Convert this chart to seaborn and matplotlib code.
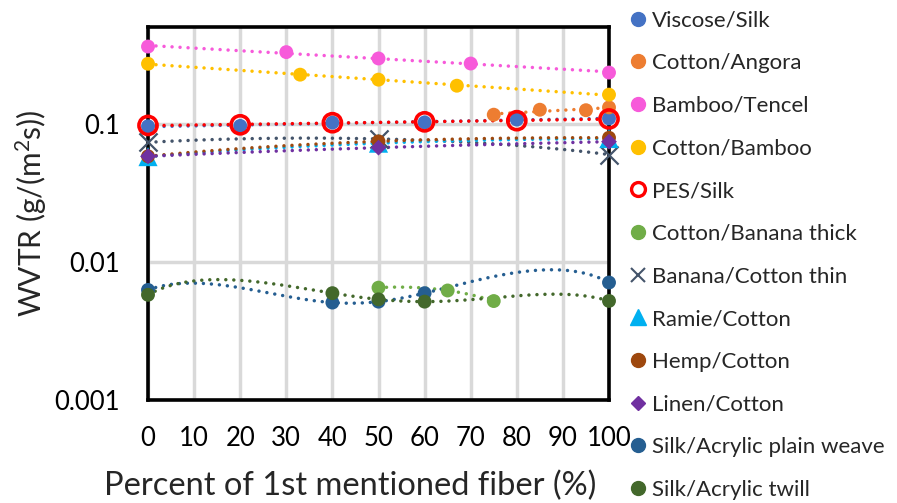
import numpy as np
import pandas as pd
import matplotlib
matplotlib.use("Agg")
import matplotlib.pyplot as plt
import seaborn as sns
from matplotlib.lines import Line2D
from matplotlib.ticker import FixedLocator, FixedFormatter, NullLocator

# ---------------- data ----------------
viscose_x = [0, 20, 40, 60, 80, 100]
viscose_y = [0.0956, 0.0962, 0.1017, 0.102, 0.107, 0.109]

angora_x = [75, 85, 95, 100]
angora_y = [0.116, 0.126, 0.125, 0.131]

tencel_x = [0, 30, 50, 70, 100]
tencel_y = [0.361, 0.329, 0.296, 0.272, 0.234]

cotbamboo_x = [0, 33, 50, 67, 100]
cotbamboo_y = [0.271, 0.226, 0.208, 0.188, 0.162]

pes_x = [0, 20, 40, 60, 80, 100]
pes_y = [0.097, 0.098, 0.1015, 0.103, 0.105, 0.108]

thick_x = [50, 65, 75]
thick_y = [0.0065, 0.0062, 0.0052]

thin_x = [0, 50, 100]
thin_y = [0.0732, 0.0775, 0.0597]

ramie_x = [0, 50, 100]
ramie_y = [0.0577, 0.0722, 0.078]

hemp_x = [0, 50, 100]
hemp_y = [0.058, 0.0744, 0.079]

linen_x = [0, 50, 100]
linen_y = [0.058, 0.067, 0.074]

plain_x = [0, 40, 50, 60, 100]
plain_y = [0.00626, 0.00507, 0.00515, 0.00593, 0.00708]

twill_x = [0, 40, 50, 60, 100]
twill_y = [0.00577, 0.00593, 0.00535, 0.00515, 0.00521]

x_ticks = [0, 10, 20, 30, 40, 50, 60, 70, 80, 90, 100]
y_ticks = [0.001, 0.01, 0.1]
y_tick_labels = ["0.001", "0.01", "0.1"]

# name, x, y, colour, marker, size, trend type
series = [
    ("Viscose/Silk", viscose_x, viscose_y, "#4472C4", "o", 100, "exp"),
    ("Cotton/Angora", angora_x, angora_y, "#ED7D31", "o", 100, "exp"),
    ("Bamboo/Tencel", tencel_x, tencel_y, "#F75ADA", "o", 100, "exp"),
    ("Cotton/Bamboo", cotbamboo_x, cotbamboo_y, "#FFC000", "o", 100, "exp"),
    ("PES/Silk", pes_x, pes_y, "#FF0000", "ring", 170, "exp"),
    ("Cotton/Banana thick", thick_x, thick_y, "#70AD47", "o", 100, "poly2"),
    ("Banana/Cotton thin", thin_x, thin_y, "#44546A", "x", 170, "poly2"),
    ("Ramie/Cotton", ramie_x, ramie_y, "#00B0F0", "^", 190, "poly2"),
    ("Hemp/Cotton", hemp_x, hemp_y, "#9E480E", "o", 100, "poly2"),
    ("Linen/Cotton", linen_x, linen_y, "#7030A0", "D", 65, "poly2"),
    ("Silk/Acrylic plain weave", plain_x, plain_y, "#255E91", "o", 100, "poly4"),
    ("Silk/Acrylic twill", twill_x, twill_y, "#43682B", "o", 100, "poly4"),
]

sns.set_style("white")
plt.rcParams["font.family"] = ["Lato", "DejaVu Sans"]
plt.rcParams["mathtext.fontset"] = "custom"
plt.rcParams["mathtext.rm"] = "Lato"
plt.rcParams["mathtext.it"] = "Lato:italic"

fig = plt.figure(figsize=(8.97, 5.03), dpi=100)
ax = fig.add_axes([148 / 897, 1 - 400 / 503, (609 - 148) / 897, (400 - 27) / 503])

ax.set_yscale("log")
ax.set_xlim(0, 100)
ax.set_ylim(0.001, 0.5)

# trendlines
for name, xs, ys, col, mk, s, kind in series:
    xs_a = np.array(xs, float)
    ys_a = np.array(ys, float)
    xx = np.linspace(xs_a.min(), xs_a.max(), 200)
    if kind == "exp":
        c = np.polyfit(xs_a, np.log(ys_a), 1)
        yy = np.exp(np.polyval(c, xx))
    elif kind == "poly2":
        c = np.polyfit(xs_a, ys_a, 2)
        yy = np.polyval(c, xx)
    else:
        c = np.polyfit(xs_a, ys_a, 4)
        yy = np.polyval(c, xx)
    df_t = pd.DataFrame({"x": xx, "y": yy})
    sns.lineplot(data=df_t, x="x", y="y", ax=ax, color=col, lw=2.5,
                 zorder=3, legend=False)
    ax.lines[-1].set_dashes([0.01, 2.3])
    ax.lines[-1].set_dash_capstyle("round")

# markers
for name, xs, ys, col, mk, s, kind in series:
    df_p = pd.DataFrame({"x": xs, "y": ys})
    if mk == "ring":
        sns.scatterplot(data=df_p, x="x", y="y", ax=ax, marker="o", s=s,
                        facecolor="none", edgecolor=col, linewidth=2.6,
                        clip_on=False, zorder=6, legend=False)
    elif mk == "x":
        sns.scatterplot(data=df_p, x="x", y="y", ax=ax, marker="x", s=s,
                        color=col, linewidth=1.6, clip_on=False, zorder=6,
                        legend=False)
    else:
        sns.scatterplot(data=df_p, x="x", y="y", ax=ax, marker=mk, s=s,
                        color=col, edgecolor="none", linewidth=0,
                        clip_on=False, zorder=6, legend=False)

# axes styling
ax.yaxis.set_major_locator(FixedLocator(y_ticks))
ax.yaxis.set_major_formatter(FixedFormatter(y_tick_labels))
ax.yaxis.set_minor_locator(NullLocator())
ax.set_xticks(x_ticks)
ax.set_xticklabels([str(v) for v in x_ticks])
ax.grid(True, which="major", color="#D9D9D9", lw=2.5)
ax.set_axisbelow(True)
for sp in ax.spines.values():
    sp.set_visible(True)
    sp.set_color("black")
    sp.set_linewidth(2.6)
ax.tick_params(axis="both", length=0, labelsize=18.5, colors="black")
ax.tick_params(axis="y", pad=20)
ax.tick_params(axis="x", pad=19)

ax.set_xlabel("Percent of 1st mentioned fiber (%)", fontsize=23.5,
              labelpad=14, x=(350 - 148) / 461)
ax.set_ylabel(r"WVTR (g/(m$^2$s))", fontsize=21.5, labelpad=4)

# legend (markers only)
handles = []
for name, xs, ys, col, mk, s, kind in series:
    if mk == "ring":
        h = Line2D([], [], ls="none", marker="o", ms=10, mfc="none", mec=col, mew=2.4)
    elif mk == "x":
        h = Line2D([], [], ls="none", marker="x", ms=10, color=col, mew=1.5)
    elif mk == "^":
        h = Line2D([], [], ls="none", marker="^", ms=11, color=col, mec=col)
    elif mk == "D":
        h = Line2D([], [], ls="none", marker="D", ms=7, color=col, mec=col)
    else:
        h = Line2D([], [], ls="none", marker="o", ms=10, color=col, mec=col)
    handles.append(h)
labels = [s_[0] for s_ in series]
fig.legend(handles, labels, loc="center left",
           bbox_to_anchor=(627 / 897, 1 - 255 / 503), frameon=False,
           fontsize=16, handlelength=1.0, handletextpad=0.12,
           labelspacing=1.02, borderpad=0, borderaxespad=0)

fig.savefig("out.png", dpi=100)
